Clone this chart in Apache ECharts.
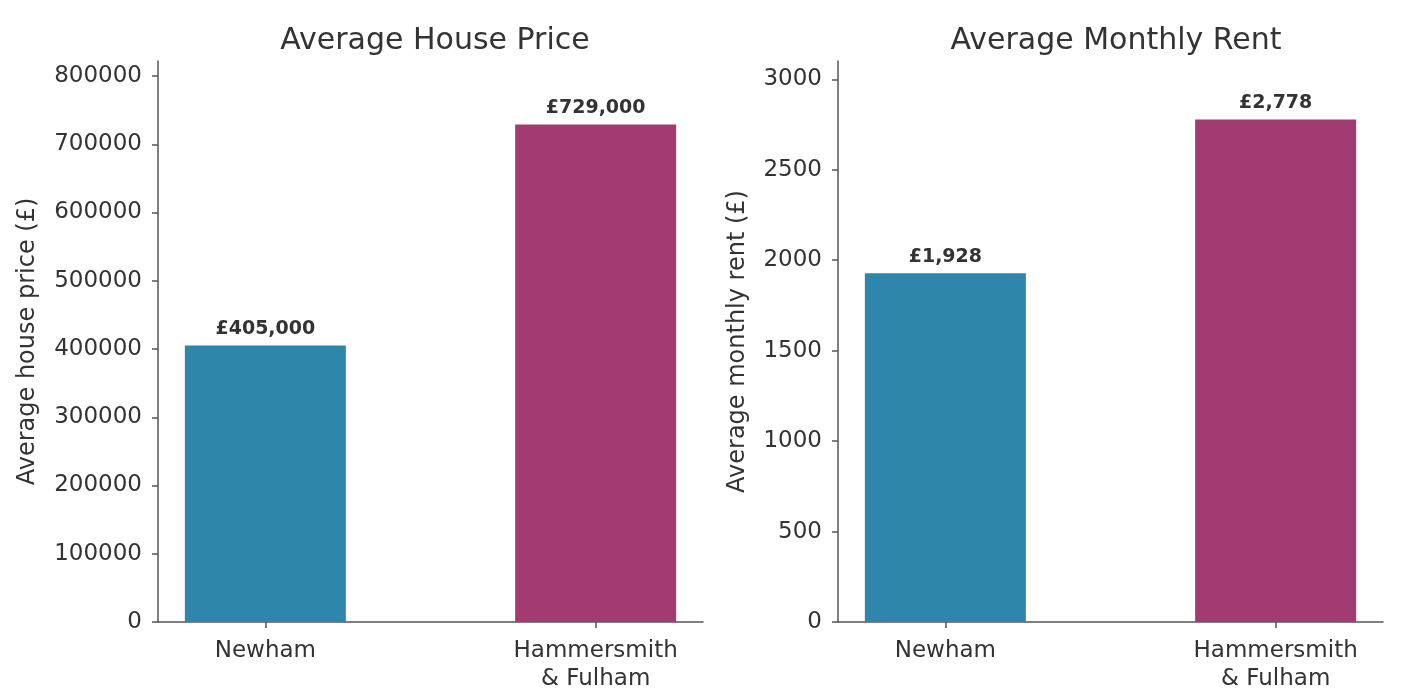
<!DOCTYPE html>
<html>
<head>
<meta charset="utf-8">
<script src="https://cdn.jsdelivr.net/npm/echarts@6/dist/echarts.min.js"></script>
<style>
html,body{margin:0;padding:0;background:#fff;}
#main{width:1408px;height:699px;}
</style>
</head>
<body>
<div id="main"></div>
<script>
const categories = ['Newham', 'Hammersmith\n& Fulham'];
const housePrices = [405000, 729000];
const monthlyRents = [1928, 2778];
const barColors = ['#2E86AB', '#A23B72'];
const priceTicks = [0, 100000, 200000, 300000, 400000, 500000, 600000, 700000, 800000];
const rentTicks = [0, 500, 1000, 1500, 2000, 2500, 3000];
const priceMax = 822000;
const rentMax = 3101;
const titles = ['Average House Price', 'Average Monthly Rent'];
const yNames = ['Average house price (£)', 'Average monthly rent (£)'];

const FONT = 'DejaVu Sans';
const TXT = '#333333';
const AX = '#555555';
const catPositions = categories.map((c, i) => i);

function xAxisFor(gridIndex) {
  return {
    type: 'value', gridIndex: gridIndex, min: -0.325, max: 1.325,
    splitLine: {show: false},
    axisLine: {show: true, onZero: false, lineStyle: {color: AX, width: 1.5}},
    axisTick: {show: true, length: 6, lineStyle: {color: AX, width: 1.5}, customValues: catPositions},
    axisLabel: {
      customValues: catPositions,
      formatter: v => categories[Math.round(v)] || '',
      fontFamily: FONT, fontSize: 23, color: TXT, lineHeight: 28, margin: 15
    }
  };
}
function yAxisFor(gridIndex, max, ticks, name, gap) {
  return {
    type: 'value', gridIndex: gridIndex, min: 0, max: max,
    name: name, nameLocation: 'middle', nameRotate: 90, nameGap: gap,
    nameTextStyle: {fontFamily: FONT, fontSize: 24, color: TXT},
    splitLine: {show: false},
    axisLine: {show: true, onZero: false, lineStyle: {color: AX, width: 1.5}},
    axisTick: {show: true, length: 6, lineStyle: {color: AX, width: 1.5}, customValues: ticks},
    axisLabel: {customValues: ticks, fontFamily: FONT, fontSize: 23, color: TXT, margin: 16,
      formatter: v => String(v)}
  };
}
function barSeries(idx, values) {
  return {
    type: 'bar', xAxisIndex: idx, yAxisIndex: idx,
    barWidth: 161,
    data: values.map((v, i) => ({value: [i, v], itemStyle: {color: barColors[i]}})),
    label: {
      show: true, position: 'top', distance: 7,
      fontFamily: FONT, fontSize: 19, fontWeight: 'bold', color: TXT,
      formatter: p => '£' + p.value[1].toLocaleString('en-GB')
    },
    animation: false
  };
}

const chart = echarts.init(document.getElementById('main'));
chart.setOption({
  backgroundColor: '#ffffff',
  animation: false,
  title: [
    {text: titles[0], left: 430, top: 21, textAlign: 'center',
     textStyle: {fontFamily: FONT, fontSize: 30, fontWeight: 'normal', color: TXT}},
    {text: titles[1], left: 1111, top: 21, textAlign: 'center',
     textStyle: {fontFamily: FONT, fontSize: 30, fontWeight: 'normal', color: TXT}}
  ],
  grid: [
    {left: 158, right: 705, top: 61, bottom: 77, containLabel: false},
    {left: 838, right: 25, top: 61, bottom: 77, containLabel: false}
  ],
  xAxis: [xAxisFor(0), xAxisFor(1)],
  yAxis: [
    yAxisFor(0, priceMax, priceTicks, yNames[0], 118),
    yAxisFor(1, rentMax, rentTicks, yNames[1], 88)
  ],
  series: [barSeries(0, housePrices), barSeries(1, monthlyRents)]
});
</script>
</body>
</html>
